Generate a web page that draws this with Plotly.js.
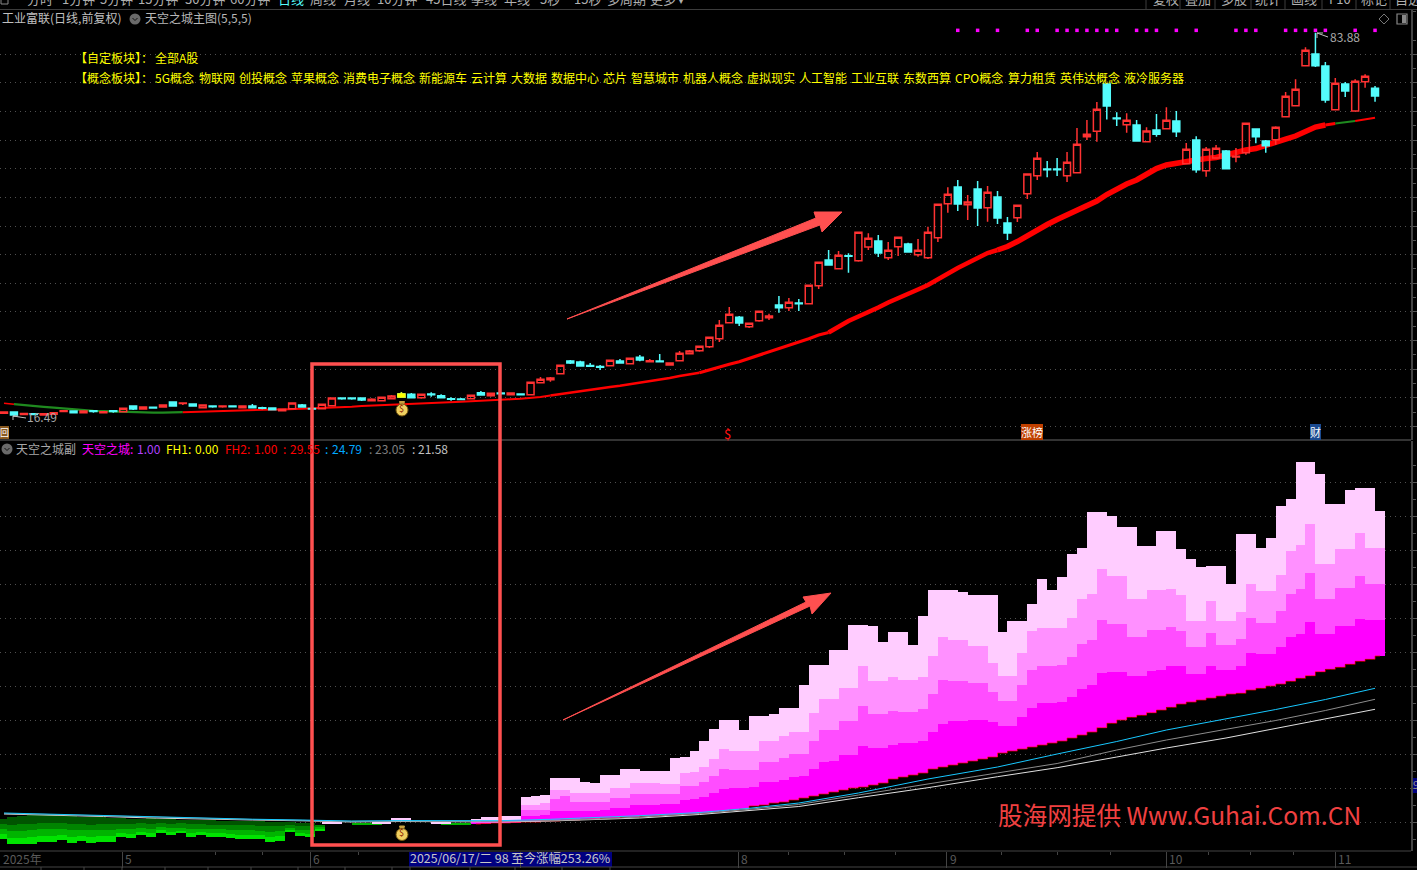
<!DOCTYPE html>
<html><head><meta charset="utf-8">
<script src="https://cdn.plot.ly/plotly-3.0.1.min.js"></script>
<style>html,body{margin:0;padding:0;background:#000;overflow:hidden}#c{width:1417px;height:870px}</style>
</head><body><div id="c"></div>
<script>
// ---------- Upper pane: daily candles (index 0..138) ----------
const open=[16.26,16.49,16.05,16.17,15.96,16.1,16.58,16.67,16.37,16.72,16.37,16.72,16.54,17.56,17.02,17.35,17.38,18.27,18.0,17.91,17.26,17.55,17.43,17.55,17.26,17.56,17.25,17.2,16.72,17.08,17.74,17.12,17.08,17.6,19.0,19.0,18.98,18.5,18.5,18.86,19.69,19.64,19.04,19.7,19.39,18.87,18.83,18.86,19.93,19.39,19.88,19.57,19.7,19.57,21.7,22.24,23.31,25.57,25.39,24.75,24.58,24.73,25.57,25.09,26.23,25.45,25.57,24.85,25.62,26.87,27.4,28.11,29.54,32.39,33.35,31.67,32.74,33.28,35.54,35.06,35.9,35.77,38.97,43.55,42.0,44.3,43.42,45.86,46.93,43.96,45.91,46.39,44.49,43.96,47.52,53.57,56.54,53.39,56.18,52.86,54.76,50.13,51.08,55.35,58.55,59.75,59.75,58.55,59.09,65.49,66.45,74.87,68.83,67.63,67.58,64.6,66.69,66.92,68.29,60.69,64.91,59.44,61.7,62.95,61.87,62.65,66.86,64.73,64.96,69.05,71.01,78.13,80.21,78.08,70.3,74.87,70.07,75.28,74.1];
const high=[16.58,16.54,16.31,16.22,16.25,16.42,16.85,16.67,16.67,16.85,16.54,16.85,17.15,17.65,17.38,17.38,17.74,18.27,18.22,17.91,17.74,17.56,17.68,17.55,17.56,17.91,17.43,17.2,16.97,18.09,17.91,17.12,17.86,18.98,19.11,19.07,18.98,18.93,19.11,19.52,20.0,19.87,19.64,20.0,19.64,19.11,18.98,19.46,20.23,19.82,19.88,19.87,19.7,21.78,22.72,22.72,24.8,25.75,25.62,25.21,24.86,25.69,25.92,26.05,26.64,25.92,26.81,25.21,27.35,27.53,28.18,29.79,32.87,35.18,33.58,32.28,34.41,33.99,37.14,36.78,36.6,39.04,43.14,45.33,45.15,44.74,48.48,48.3,47.99,46.75,47.59,46.62,47.28,49.47,53.46,56.49,57.79,55.12,57.61,56.72,55.83,51.2,53.28,58.85,62.77,61.17,61.7,62.77,67.04,68.47,71.67,74.96,69.84,69.66,68.47,67.17,69.53,70.73,70.07,64.37,65.56,63.66,64.02,63.13,63.48,67.88,66.86,64.91,67.35,73.45,75.71,81.4,84.0,78.79,75.94,75.23,75.71,76.6,74.52];
const low=[16.17,15.69,15.96,15.98,15.92,16.05,16.49,16.37,16.37,16.37,16.37,16.37,16.54,16.85,17.02,17.08,17.38,17.56,17.74,17.56,17.26,17.26,17.26,17.43,17.26,17.15,16.97,16.9,16.72,17.08,17.38,17.02,17.08,17.6,18.68,18.68,18.45,18.5,18.5,18.86,19.16,19.04,18.86,19.21,19.04,18.5,18.63,18.86,19.52,19.21,19.76,19.57,19.58,19.57,21.7,21.88,23.31,25.03,24.55,24.55,23.97,24.73,25.21,25.09,25.51,25.45,25.45,24.85,25.62,26.87,27.22,27.88,28.95,32.39,31.8,31.44,32.56,32.87,34.16,34.47,34.47,35.77,38.38,42.53,42.0,41.29,43.24,45.33,44.08,43.55,44.26,44.97,44.13,43.72,46.75,51.97,52.27,50.67,49.6,50.36,49.95,47.11,50.31,54.4,57.79,58.27,58.5,57.43,59.09,64.91,64.6,68.55,67.4,66.2,64.6,64.6,65.49,66.92,65.44,60.69,59.09,58.37,61.7,59.8,60.94,62.29,64.32,62.65,64.07,69.05,71.01,78.13,77.9,71.55,70.3,72.56,70.07,74.22,71.72];
const close=[16.49,15.96,16.22,16.03,16.19,16.37,16.72,16.37,16.67,16.58,16.54,16.58,17.15,17.02,17.38,17.2,17.74,17.56,18.1,17.56,17.74,17.43,17.55,17.43,17.56,17.26,17.15,16.9,16.97,18.09,17.38,17.02,17.86,18.98,18.85,18.85,18.63,18.75,19.11,19.34,19.16,19.04,19.64,19.58,19.04,18.75,18.7,19.46,19.52,19.82,19.76,19.87,19.58,21.78,22.31,22.54,24.8,25.21,24.68,24.62,24.44,25.69,25.21,26.05,25.75,25.6,25.45,25.21,26.94,27.35,28.18,29.79,31.92,33.88,32.33,32.28,34.41,33.58,35.06,36.02,35.78,39.04,43.14,42.66,44.38,44.2,48.48,47.41,44.79,45.27,47.59,44.97,45.27,48.48,53.46,55.24,53.51,53.87,52.8,55.6,51.02,48.35,53.28,58.85,61.65,59.63,59.63,60.94,64.14,65.92,70.37,70.96,68.71,68.41,64.73,66.51,65.92,68.41,66.38,63.25,59.62,63.25,63.43,59.8,62.0,67.88,65.49,63.89,67.17,72.68,73.93,80.87,78.13,72.03,75.0,73.63,75.36,76.24,72.74];
const yellowBar=40;
const maLine=[18.04,17.88,17.68,17.56,17.40,17.26,17.10,16.95,16.81,16.70,16.65,16.58,16.45,16.42,16.37,16.37,16.40,16.44,16.47,16.53,16.58,16.67,16.76,16.81,16.83,16.86,16.90,16.92,16.95,17.01,17.02,17.10,17.20,17.29,17.36,17.43,17.56,17.65,17.74,17.83,17.91,17.99,18.06,18.11,18.18,18.27,18.32,18.39,18.45,18.54,18.63,18.75,18.86,18.98,19.16,19.43,19.69,20.0,20.28,20.50,20.71,20.94,21.17,21.44,21.71,21.95,22.19,22.54,22.90,23.18,23.49,24.02,24.55,25.0,25.44,26.01,26.58,27.13,27.70,28.29,28.90,29.54,30.2,30.64,31.71,32.69,33.49,34.2,35.09,35.98,36.69,37.41,38.3,39.1,40.16,41.23,42.12,43.01,43.9,44.79,45.33,45.95,46.84,47.91,48.89,49.87,50.76,51.56,52.45,53.16,54.05,55.2,56.27,57.07,57.79,58.85,59.83,60.46,60.81,61.17,61.35,61.61,61.79,62.24,62.77,63.13,63.39,64.02,64.55,65.08,65.62,66.51,67.22,67.58,67.84,68.02,68.29,68.55,68.87];
const maSegments=[[0,1,'#ff0000',1.5],[1,18,'#1f8a1f',2.2],[18,55,'#ff0000',2],[55,70,'#ff0000',2.5],[70,83,'#ff0000',3.2],[83,100,'#ff0000',4.5],[100,133,'#ff0000',5.5],[133,134,'#ff0000',3],[134,136,'#1f8a1f',2],[136,138,'#ff0000',2]];
const signalBars=[96,98,100,103,104,106,107,108,109,110,111,112,114,115,116,118,120,124,125,126,129,130,131,132,133,136,138];
const signalLevel=84.43;
const upperGrid=[13.94,19.03,24.13,29.22,34.31,39.41,44.5,49.59,54.69,59.78,64.88,69.97,75.06,80.16];
const lowerGrid=[27.7,61.7,95.7,129.7,163.7,197.7,231.7,265.7,299.7,333.7,367.7];

// ---------- Lower pane: pink columns, index 47..138 ----------
const pinkFirst=47;
const pinkBase=[26,26.5,27,27,27.5,28,28,29,29,30,30,31,31,32,32,33,33,34,34,35,35,36,36,37,38,39,40,41,44,45,47,48,50,52,54,56,58,60,62,63,65,67,71,73,75,77,81,83,85,87,89,91,93,97,99,101,103,105,107,109,112,115,118,122.3,126.7,130,132.7,134.7,137.3,140,142.7,146,148,150,152,154,156,156.7,160,161.7,164,166,168.7,171.7,174.3,178.3,180.7,182.7,185.7,188.7,190.7,194];
const pinkL1=[28,29,29.5,30,30,34,34,35,39,39,39,39,39,40,42,42,45,45,45,46,46,50,51,53,57,61,62,62,63,68,68,70,73,74,81,88,89,95,95,104,102,102,105,107,107,109,118,126,129,129,130,130,128,124,124,133,142,147,147,148,153,161,165,177,178,178,174,174,179,180,184,184,176,176,184,180,180,184,197,196,196,203,213,216,228,216,216,224,224,231,230,230];
const pinkL3=[28,29,29.5,30,30,40,40,40,51,54,48,48,48,48,52,52,56,56,56,56,56,64,64,68,74,81,80,80,80,88,88,92,96,96,109,120,120,129,129,144,136,136,139,138,138,141,156,170,169,169,167,167,158,149,149,165,180,184,184,185,193,206,210,230,226,226,213,213,220,220,223,219,203,203,217,205,205,211,232,227,227,239,256,261,277,251,251,262,262,274,266,266];
const pinkL2=[28,29,29.5,30,30,45,45,47,60,60,57,57,57,57,62,62,67,67,67,66,66,77,78,83,91,101,99,99,99,109,109,114,118,118,137,151,151,162,162,184,169,169,173,170,170,173,194,213,210,210,204,204,187,174,174,197,219,222,222,222,232,251,256,281,274,274,251,251,260,260,261,255,229,229,249,229,229,238,266,259,259,275,299,305,326,286,286,301,301,317,302,302];
const pinkL4=[31,33,33,34,34,53,54,55,72,72,72,68,67,75,75,81,81,79,79,79,92,93,99,109,121,130,130,120,134,134,136,142,142,165,185,185,200,200,225,225,224,208,218,218,205,234,260,260,260,258,255,255,255,218,229,229,246,271,260,273,296,302,338,338,334,323,323,304,304,319,319,301,291,283,284,284,266,316,316,302,312,344,351,388,388,376,346,346,360,362,362,339];
const paleBars=[32,33,37,38,39,40,43,44];
const paleTop=[27.7,27.7,28.3,28.3,31.7,31.7,28.3,28.3];
const paleBase=[26,26,26,26,28,28,26,26];
const smallGreenBars=[35,36,37,44,45,46];
const smallGreenTop=[27,27,27,27,27,27];
const smallGreenBase=[25,25,25.5,25,25,25];

// ---------- Lower pane: green columns, index 0..32 ----------
const greenTop=[31,33,34,35,35,35,34.5,34,33.5,33,32.7,32.3,32,31.3,31.5,31.7,31.2,31,30.5,30,30,29.7,29.5,29.3,29,29,28.8,28.5,28.3,28,27.5,27,25.3];
const greenB1=[26,25.5,26,26.5,27,27,27,26,26,25.5,26,26,26.5,26,27,26.5,27,26.5,27,26,26,25.5,25.5,25,25,25,24.5,24,24,25,24.5,24,25];
const greenB2=[21,19,19.5,20,21,21,21.5,20,20.5,20,20.5,20.5,21.5,21,22.5,21.5,23,22,22.5,21,21.5,21,21,20.5,20,20,19.5,18.5,19,22,20.5,20,23];
const greenB3=[16,12,12.5,13,14.5,14.5,15.5,13.5,14.5,13.5,14,14,17,16,18,17,20,18,19.5,17,18,17,17,16,15.5,15.5,15,13,14,20,17,16.5,21];
const greenB4=[11,6,6,6,8.3,8.3,10,7.3,9,7.3,8.3,8.3,12.7,12,15,13.3,17.3,15.3,17,13.3,15,13.3,13.3,12,11.3,11.3,11,8,9.3,18.3,14,13.3,19.3];

// ---------- Lower pane: three thin lines ----------
const lineBars=[0,5,10,15,20,25,30,35,40,45,50,55,60,64,70,75,80,86,93,100,106,112,117,123,128,133,138];
const cyanLine=[37,35.7,34.3,32.8,31.5,30.8,30,29,29.4,29,29.3,30.7,32.5,34.3,37.5,41.7,47,57,71,83,96,108.5,120,131,140.5,150.5,161.7];
const grayLine=[36.6,35.4,34,32.5,31.2,30.5,29.6,28.6,28.9,28.6,28.7,29.5,31,33,36.5,40.7,45.5,55,66,77,86.5,100,110,120.7,129.5,139.5,150.7];
const whiteLine=[36,35,33.5,32,30.8,30,29.2,28,28.5,28,28,29,30.5,32,35.5,39.3,43.5,52.3,62.3,73.3,82.3,93,102,112,121.5,130.5,140.7];

// ---------- Axis labels ----------
const monthTicks=[11.9,30.8,52,73.9,94.9,117,134];
const monthLabels=['5','6','','8','9','10','11'];
const minorTicks=[21.3,26,35.7,79,84.6,89.7,100.4,106,111.4,121.2,125.5,129.8];
const yearLabel='2025年';
const dateBox='2025/06/17/二 98 至今涨幅253.26%';

// ---------- Texts ----------
const toolbarText=['分时','1分钟','5分钟','15分钟','30分钟','60分钟','日线','周线','月线','10分钟','45日线','季线','年线','5秒','15秒','多周期','更多'];
const toolbarX=[27,62,100,138,185,230,278,310,344,377,426,471,504,540,574,607,650];
const toolRightText=['复权','叠加','多股','统计','画线','F10','标记','自选'];
const toolRightX=[1153,1185,1221,1255,1291,1329,1361,1395];
const toolRightSep=[1146,1180,1215,1251,1285,1322,1356,1390];
const conceptText=['5G概念','物联网','创投概念','苹果概念','消费电子概念','新能源车','云计算','大数据','数据中心','芯片','智慧城市','机器人概念','虚拟现实','人工智能','工业互联','东数西算','CPO概念','算力租赁','英伟达概念','液冷服务器'];
const conceptX=[155,199,239,291,343,419,471,511,551,603,631,683,747,799,851,903,955,1008,1060,1124];
const legendText=['天空之城:','1.00','FH1:','0.00','FH2:','1.00',':','29.55',':','24.79',':','23.05',':','21.58'];
const legendX=[82,137,166,195,225,254,283,290,325,332,369,375,412,418];
const legendColor=['#ff00ff','#b040ff','#ffff00','#ffff00','#ff0000','#ff0000','#ff0000','#ff0000','#00a8ff','#00a8ff','#808080','#808080','#c0c0c0','#c0c0c0'];
const footTicks=[41,84,122,165,208,251,298,345,392,410,470,515,562,610];

// ---------- Pixel helpers for decoration only ----------
const W=1417,H=870,FONT='"Noto Sans CJK SC","Noto Sans",sans-serif';
const fx=p=>p/W, fy=p=>1-p/H;
const range=n=>Array.from({length:n},(_,i)=>i);
const idx=range(open.length);
const pinkIdx=pinkBase.map((_,k)=>k+pinkFirst);

function bars(xs,offset,tops,bases,color){
  return {type:'bar',x:xs.map(i=>i+offset),y:tops.map((t,k)=>t-bases[k]),base:bases,width:1,
    marker:{color:color,line:{width:0}},xaxis:'x',yaxis:'y2',hoverinfo:'skip',showlegend:false};
}
const traces=[];
maSegments.forEach(s=>{
  const xs=idx.slice(s[0],s[1]+1);
  traces.push({type:'scatter',mode:'lines',x:xs,y:xs.map(i=>maLine[i]),line:{color:s[2],width:s[3]},xaxis:'x',yaxis:'y',hoverinfo:'skip',showlegend:false});
});
traces.push({type:'candlestick',x:idx,open:open,high:high,low:low,close:close,xaxis:'x',yaxis:'y3',hoverinfo:'skip',showlegend:false,whiskerwidth:0,
  increasing:{line:{color:'#ff3232',width:1.5},fillcolor:'rgba(0,0,0,0)'},
  decreasing:{line:{color:'#54fcfc',width:1.5},fillcolor:'#54fcfc'}});
traces.push({type:'candlestick',x:[yellowBar],open:[open[yellowBar]],high:[high[yellowBar]],low:[low[yellowBar]],close:[close[yellowBar]],xaxis:'x',yaxis:'y3',hoverinfo:'skip',showlegend:false,whiskerwidth:0,
  increasing:{line:{color:'#ffff00',width:1.5},fillcolor:'#ffff00'},
  decreasing:{line:{color:'#ffff00',width:1.5},fillcolor:'#ffff00'}});
traces.push({type:'scatter',mode:'markers',x:signalBars,y:signalBars.map(()=>signalLevel),marker:{symbol:'square',size:3.5,color:'#ff00ff',line:{width:0}},xaxis:'x',yaxis:'y3',hoverinfo:'skip',showlegend:false});

const gOff=-0.2;
const gIdx=range(greenTop.length);
traces.push(bars(gIdx,gOff,greenTop,greenB4,'#00e400'));
traces.push(bars(gIdx,gOff,greenTop,greenB3,'#00b400'));
traces.push(bars(gIdx,gOff,greenTop,greenB2,'#008400'));
traces.push(bars(gIdx,gOff,greenTop,greenB1,'#005400'));
traces.push(bars(smallGreenBars,0.5,smallGreenTop,smallGreenBase,'#00b400'));
traces.push(bars(paleBars,0.5,paleTop,paleBase,'#ffccff'));
traces.push(bars(pinkIdx,0.5,pinkL4,pinkBase,'#ffccff'));
traces.push(bars(pinkIdx,0.5,pinkL2,pinkBase,'#ff90ff'));
traces.push(bars(pinkIdx,0.5,pinkL3,pinkBase,'#ff4dff'));
traces.push(bars(pinkIdx,0.5,pinkL1,pinkBase,'#ff00ff'));
traces.push({type:'scatter',mode:'lines',x:pinkIdx.map(i=>i+0.5),y:pinkBase,line:{color:'#ff0000',width:1,shape:'hvh'},xaxis:'x',yaxis:'y2',hoverinfo:'skip',showlegend:false,opacity:0.7});
[[whiteLine,'#e0e0e0'],[grayLine,'#8c8c8c'],[cyanLine,'#18c8ff']].forEach(l=>{
  traces.push({type:'scatter',mode:'lines',x:lineBars,y:l[0],line:{color:l[1],width:1},xaxis:'x',yaxis:'y2',hoverinfo:'skip',showlegend:false});
});

const ann=[];
function T(text,x,py,color,size,extra){ann.push(Object.assign({text:text,xref:'paper',yref:'paper',x:fx(x),y:fy(py-0.8),xanchor:'left',yanchor:'middle',showarrow:false,
  font:{family:FONT,size:size||12,color:color},borderpad:0,borderwidth:0},extra||{}));}
toolbarText.forEach((t,k)=>T(t,toolbarX[k],-1,k===6?'#54fcfc':'#b0b0b0',13));
toolRightText.forEach((t,k)=>T(t,toolRightX[k],-1,'#b0b0b0',13));
T('▾',678,-1,'#b0b0b0',12);
T('工业富联(日线,前复权)',2,18.5,'#c0c0c0',12);
T('天空之城主图(5,5,5)',145,18.5,'#b8b8b8',12);
T('【自定板块】：',75,58.5,'#ffff00',12);
T('全部A股',155,58.5,'#ffff00',12);
T('【概念板块】：',75,78.5,'#ffff00',12);
conceptText.forEach((t,k)=>T(t,conceptX[k],78.5,'#ffff00',12));
T('天空之城副',16,449,'#a8a8a8',12);
legendText.forEach((t,k)=>T(t,legendX[k],449,legendColor[k],12));
T('16.49',27,417,'#a8a8a8',12);
T('83.88',1330,37.5,'#a8a8a8',12);
T('股海网提供 Www.Guhai.Com.CN',998,815,'#f04040',24.6);
T('$',724,434,'#ff1010',13);
T('涨榜',1021,433,'#ffffff',11,{bgcolor:'#c04000'});
T('财',1310,433,'#ffffff',11,{bgcolor:'#1a4a90'});
T('回',0,433,'#ffffff',9,{bgcolor:'#8a5a20'});
T('$',399,409.5,'#8a2000',9);
T('$',399,833.5,'#8a2000',9);
T(dateBox,410,859,'#c8c8c8',12.4);
T('9',1413,785,'#909090',11);
T(yearLabel,3,859,'#5a5a5a',12);
monthTicks.forEach((m,k)=>{ if(monthLabels[k]) ann.push({text:monthLabels[k],xref:'x',yref:'paper',x:m,y:fy(858.2),xanchor:'left',yanchor:'middle',xshift:1,showarrow:false,font:{family:FONT,size:12,color:'#5a5a5a'}}); });

const sh=[];
function L(x0,y0,x1,y1,c,w,below){sh.push({type:'line',xref:'paper',yref:'paper',x0:fx(x0),y0:fy(y0),x1:fx(x1),y1:fy(y1),line:{color:c,width:w||1},layer:below?'below':'above'});}
function P(pts,fill,line){sh.push({type:'path',xref:'paper',yref:'paper',path:'M'+pts.map(p=>fx(p[0])+','+fy(p[1])).join(' L')+' Z',fillcolor:fill,line:{color:line||fill,width:1},layer:'above'});}
function C(x,y,r,fill,line){sh.push({type:'circle',xref:'paper',yref:'paper',x0:fx(x-r),x1:fx(x+r),y0:fy(y+r),y1:fy(y-r),fillcolor:fill,line:{color:line||fill,width:line?1:0},layer:'above'});}
L(0,9.5,W,9.5,'#3c3c3c',1);
L(0,440,1411,440,'#444444',1.5);
L(0,851,1411,851,'#444444',1);
L(0,867,W,867,'#444444',1);
toolRightSep.forEach(x=>L(x,0,x,9,'#3c3c3c',1));
L(1,0,1,4,'#888',1);L(8,0,8,4,'#888',1);L(1,4,8,4,'#888',1);
footTicks.forEach(x=>L(x,867,x,870,'#444444',1));
sh.push({type:'rect',xref:'paper',yref:'paper',x0:fx(409),x1:fx(612),y0:fy(867),y1:fy(852),fillcolor:'#000080',line:{width:0},layer:'below'});
sh.push({type:'rect',xref:'paper',yref:'paper',x0:fx(1413),x1:fx(1417),y0:fy(793),y1:fy(778),fillcolor:'#000080',line:{width:0},layer:'below'});
C(135,19,5.5,'#6a6a6a');L(132.5,18,135,20.5,'#111',1);L(135,20.5,137.5,18,'#111',1);
C(7,449,5.5,'#6a6a6a');L(4.5,448,7,450.5,'#111',1);L(7,450.5,9.5,448,'#111',1);
P([[1384,14],[1389,19],[1384,24],[1379,19]],'rgba(0,0,0,0)','#777777');
sh.push({type:'rect',xref:'paper',yref:'paper',x0:fx(1397),x1:fx(1407),y0:fy(24),y1:fy(14),line:{color:'#888',width:1.2},layer:'above'});
sh.push({type:'rect',xref:'paper',yref:'paper',x0:fx(1402),x1:fx(1406),y0:fy(23),y1:fy(15),fillcolor:'#888',line:{width:0},layer:'above'});
L(1317,33,1328,37,'#c0c0c0',1);L(1317,33,1323,33,'#c0c0c0',1);L(1317,33,1317,38,'#c0c0c0',1);
L(13,416,26,418,'#c0c0c0',1);L(13,416,18,416,'#c0c0c0',1);L(13,416,13,420,'#c0c0c0',1);
[[402,409],[402,833.5]].forEach(b=>{
  const x=b[0],y=b[1];
  P([[x-2.5,y-7.5],[x+2.5,y-7.5],[x+1.5,y-4],[x-1.5,y-4]],'#c8a040');
  C(x,y+1,6,'#f0d060','#7a5a10');
});
sh.push({type:'rect',xref:'paper',yref:'paper',x0:fx(312),x1:fx(500),y0:fy(845),y1:fy(364),line:{color:'#ff5050',width:3.5},layer:'above'});
P([[567,319],[820,225],[822,232],[842,212],[814,212],[816,218]],'#ff5050');
P([[563,720],[810,606],[812,614],[831,593],[803,597],[806,602]],'#ff5050');

const gridAxis=(vals,dom,rng,step)=>({domain:dom,range:rng,side:'right',tickmode:'array',tickvals:vals,showticklabels:false,
  ticks:'outside',ticklen:4,tickcolor:'#555',showgrid:true,gridcolor:'#505050',griddash:'1px,4px',gridwidth:1,
  zeroline:false,showline:true,linecolor:'#444',linewidth:2,fixedrange:true,
  minor:{ticks:'outside',ticklen:3,tickcolor:'#555',tick0:vals[0]+step/2,dtick:step,showgrid:false}});
const upRange=[11.51,88.05];
const layout={width:W,height:H,margin:{l:0,r:0,t:0,b:0,pad:0},paper_bgcolor:'#000',plot_bgcolor:'#000',showlegend:false,hovermode:false,
  barmode:'overlay',bargap:0,boxgap:0.3,boxgroupgap:0,boxmode:'overlay',dragmode:false,
  xaxis:{domain:[0,1411/W],range:[-0.403,141.62],anchor:'y2',rangeslider:{visible:false},tickmode:'array',tickvals:monthTicks,ticktext:monthTicks.map(()=>''),
    ticks:'outside',ticklen:16,tickcolor:'#444',showgrid:false,zeroline:false,showline:false,fixedrange:true,
    minor:{ticks:'outside',ticklen:3,tickcolor:'#444',tickmode:'array',tickvals:minorTicks,showgrid:false}},
  yaxis:gridAxis(upperGrid,[(H-440)/H,(H-10)/H],upRange,5.094),
  yaxis2:gridAxis(lowerGrid,[(H-851)/H,(H-441)/H],[-1,409],34),
  yaxis3:{overlaying:'y',side:'right',range:upRange,visible:false,showgrid:false,zeroline:false,fixedrange:true},
  annotations:ann,shapes:sh};
Plotly.newPlot('c',traces,layout,{displayModeBar:false,staticPlot:true});
</script></body></html>
